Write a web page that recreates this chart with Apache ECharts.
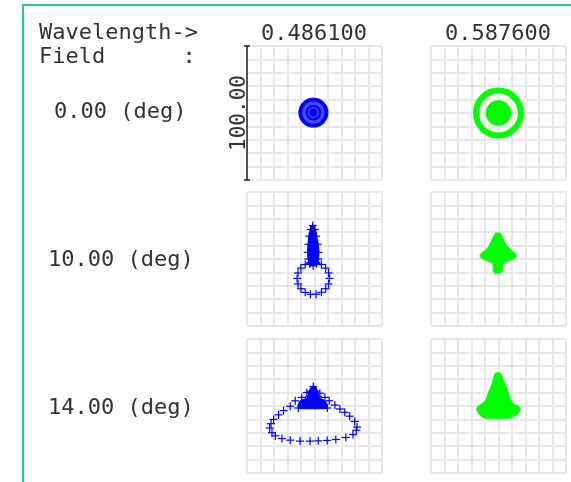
<!DOCTYPE html>
<html>
<head>
<meta charset="utf-8">
<title>Spot diagram</title>
<script src="https://cdn.jsdelivr.net/npm/echarts@6/dist/echarts.min.js"></script>
<style>
  html, body { margin: 0; padding: 0; background: #fff; }
  #main { width: 571px; height: 482px; }
</style>
</head>
<body>
<div id="main"></div>
<script>
// headers
var wavelengths = ['0.486100', '0.587600'];
var fields = ['0.00 (deg)', '10.00 (deg)', '14.00 (deg)'];
var scaleLabel = '100.00';
var axisRange = [-50, 50];   // um, box = 100 um

// 0.486100 / 0.00 deg : [cx, cy, r] and rings [cx, cy, r, width]
var halo486F0 = [[-0.8, 0.3, 11.2]];
var ring486F0 = [[-0.8, 0.3, 9.6, 2.6], [-0.8, 0.3, 5.0, 1.6]];
var core486F0 = [[-0.8, 0.3, 3.0]];

// 0.587600 / 0.00 deg
var ring587F0 = [[-0.1, 0, 16.6, 4.4]];
var disk587F0 = [[-0.1, 0, 9.4]];

// 0.486100 / 10.00 deg : dense flame outline + single ray crosses
var flame486F10 = [
  [-1.3, 25.5], [0.5, 23], [1.5, 18], [2.6, 12], [3.1, 8], [3.2, 2.5], [2.2, -2],
  [0.5, -4.5], [-1.2, -5], [-3, -4.5], [-4.3, -2], [-5, 2.5], [-5, 8], [-4.7, 12],
  [-4, 18], [-3, 23]
];
var cross486F10 = [
  [11.1, -14.5], [10.4, -10.4], [8.3, -6.8], [5.1, -4.1], [1.2, -2.7], [-3.0, -2.7],
  [-6.9, -4.1], [-10.1, -6.8], [-12.2, -10.4], [-12.9, -14.5], [-12.2, -18.6],
  [-10.1, -22.2], [-6.9, -24.9], [-3.0, -26.3], [1.2, -26.3], [5.1, -24.9],
  [8.3, -22.2], [10.4, -18.6],
  [-1.3, 25], [-2.8, 22], [0.3, 22], [-3.8, 17], [1.2, 17], [-4.5, 11], [2.3, 11],
  [-5, 5], [3, 5], [-4.5, 0], [2.8, 0], [-3.5, -3.5], [1.5, -3.5], [-1, -5]
];

// 0.587600 / 10.00 deg
var blob587F10 = [
  [-0.5, 19.5], [1.5, 19], [3, 16], [4.6, 12.3], [7, 9], [10.1, 6], [12.5, 4],
  [13.2, 2.5], [12, 0.5], [8.5, -1], [5.5, -2.2], [3, -3.5], [2.7, -9], [1.5, -10.5],
  [-3, -10.5], [-3.9, -9], [-4, -3.5], [-6.5, -2.2], [-9.5, -1], [-12.5, 0.5],
  [-13.7, 2.5], [-13, 4], [-10.3, 6], [-7.5, 9], [-5.9, 12.3], [-4, 16], [-2.5, 19]
];

// 0.486100 / 14.00 deg
var core486F14 = [
  [-0.9, 15], [1.5, 13], [2.8, 9], [4, 6], [7.7, 4], [9.4, 1], [9, -1.8],
  [-11.9, -1.8], [-12, 1], [-10.7, 4], [-5.5, 6], [-4.6, 9], [-3.2, 13]
];
var cross486F14 = [
  [-5.7, 10.1], [-9.4, 6.4], [-14.3, 3.9], [-18, -0.2], [-22.9, -3.4], [-26.6, -6.6],
  [-30.3, -10], [-32.2, -13.2], [-33.2, -16.4], [-31.5, -19.9], [-29, -22.3],
  [-24.1, -24.3], [-18, -25.5], [-10.7, -26.2], [-3.3, -26.2], [2.8, -26],
  [9.4, -25.7], [15.8, -25], [23.2, -23.5], [28.5, -21.3], [31, -18.1], [31.5, -15.7],
  [29.8, -11.5], [26.1, -7.6], [22.4, -4.7], [18.8, -2.2], [15.1, 0.7], [10.9, 3.9],
  [7.7, 6.4], [4, 9.6],
  [-0.9, 14.5], [-2.5, 11], [1, 11], [-4, 7], [2.5, 7], [-12, -1.5], [9.5, -1.5]
];

// 0.587600 / 14.00 deg
var blob587F14 = [
  [-0.5, 25], [2, 24], [3.2, 20], [5, 16], [6.4, 12.5], [8.3, 6.4], [9.5, 3.5],
  [11.3, 1.5], [14.5, 0], [16.2, -2.2], [14.2, -5.9], [8.3, -9], [-10.8, -9],
  [-14.5, -5.9], [-16.2, -2.2], [-15, 0], [-12.7, 1.5], [-10, 3.5], [-8.8, 6.4],
  [-6.4, 12.5], [-5, 16], [-3.9, 20], [-2.5, 24]
];

var BLUE = '#0000ff';
var GREEN = '#00ff00';
var FONT = '"DejaVu Sans Mono", monospace';
var TEXT = '#333';

var myChart = echarts.init(document.getElementById('main'));

// panel boxes, row by row
var colLeft = [247, 431];
var rowTop = [46, 192, 339];
var grids = [];
var xAxes = [];
var yAxes = [];
rowTop.forEach(function (top) {
  colLeft.forEach(function (left) {
    var i = grids.length;
    grids.push({ left: left, top: top, width: 135, height: 134 });
    var ax = {
      type: 'value', gridIndex: i, min: axisRange[0], max: axisRange[1], interval: 10,
      axisLine: { show: false }, axisTick: { show: false }, axisLabel: { show: false },
      splitLine: { show: true, lineStyle: { color: '#e8e8e8', width: 2 } }
    };
    xAxes.push(ax);
    yAxes.push(Object.assign({}, ax));
  });
});

// scale bar on the first box
yAxes.push({
  type: 'value', gridIndex: 0, position: 'left', min: 0, max: 100, interval: 100,
  axisLine: { show: true, onZero: false, lineStyle: { color: '#222', width: 1.5 } },
  axisTick: { show: true, length: 3, lineStyle: { color: '#222', width: 1.5 } },
  axisLabel: { show: false }, splitLine: { show: false },
  name: scaleLabel, nameLocation: 'middle', nameRotate: 90, nameGap: -3,
  nameTextStyle: { fontFamily: FONT, fontSize: 21, color: TEXT }
});
yAxes.push({
  type: 'value', gridIndex: 0, position: 'left', min: 0, max: 100, interval: 100,
  axisLine: { show: false },
  axisTick: { show: true, inside: true, length: 3, lineStyle: { color: '#222', width: 1.5 } },
  axisLabel: { show: false }, splitLine: { show: false }
});

function diskSeries(panel, data, color, opacity) {
  return {
    type: 'custom', xAxisIndex: panel, yAxisIndex: panel, data: data, silent: true,
    renderItem: function (params, api) {
      var c = api.coord([api.value(0), api.value(1)]);
      var r = api.size([api.value(2), 0])[0];
      return { type: 'circle', shape: { cx: c[0], cy: c[1], r: r },
        style: { fill: color, opacity: opacity } };
    }
  };
}

function ringSeries(panel, data, color) {
  return {
    type: 'custom', xAxisIndex: panel, yAxisIndex: panel, data: data, silent: true,
    renderItem: function (params, api) {
      var c = api.coord([api.value(0), api.value(1)]);
      var r = api.size([api.value(2), 0])[0];
      var w = api.size([api.value(3), 0])[0];
      return { type: 'circle', shape: { cx: c[0], cy: c[1], r: r },
        style: { fill: 'none', stroke: color, lineWidth: w } };
    }
  };
}

function blobSeries(panel, data, color) {
  return {
    type: 'custom', xAxisIndex: panel, yAxisIndex: panel, data: data, silent: true,
    renderItem: function (params, api) {
      if (params.dataIndex !== 0) return;
      var pts = data.map(function (d) { return api.coord(d); });
      return { type: 'polygon', shape: { points: pts, smooth: 0.15 },
        style: { fill: color, stroke: color, lineWidth: 1 } };
    }
  };
}

function crossSeries(panel, data, color) {
  return {
    type: 'custom', xAxisIndex: panel, yAxisIndex: panel, data: data, silent: true,
    renderItem: function (params, api) {
      var p = api.coord([api.value(0), api.value(1)]);
      var h = 4;
      return { type: 'group', children: [
        { type: 'line', shape: { x1: p[0] - h, y1: p[1], x2: p[0] + h, y2: p[1] },
          style: { stroke: color, lineWidth: 1.2 } },
        { type: 'line', shape: { x1: p[0], y1: p[1] - h, x2: p[0], y2: p[1] + h },
          style: { stroke: color, lineWidth: 1.2 } }
      ] };
    }
  };
}

var series = [
  diskSeries(0, halo486F0, BLUE, 0.7),
  ringSeries(0, ring486F0, BLUE),
  diskSeries(0, core486F0, BLUE, 1),
  ringSeries(1, ring587F0, GREEN),
  diskSeries(1, disk587F0, GREEN, 1),
  blobSeries(2, flame486F10, BLUE),
  crossSeries(2, cross486F10, BLUE),
  blobSeries(3, blob587F10, GREEN),
  blobSeries(4, core486F14, BLUE),
  crossSeries(4, cross486F14, BLUE),
  blobSeries(5, blob587F14, GREEN)
];

function label(text, x, y, align) {
  return {
    type: 'text', x: x, y: y, silent: true,
    style: { text: text, fill: TEXT, font: '22px ' + FONT,
      align: align, verticalAlign: 'middle', textAlign: align, textVerticalAlign: 'middle' }
  };
}

var graphics = [
  { type: 'line', shape: { x1: 23, y1: 5, x2: 23, y2: 482 }, style: { stroke: '#1ec99b', lineWidth: 2 } },
  { type: 'line', shape: { x1: 22, y1: 5, x2: 571, y2: 5 }, style: { stroke: '#1ec99b', lineWidth: 2 } },
  label('Wavelength->', 39, 33, 'left'),
  label('Field', 39, 57, 'left'),
  label(':', 189, 57, 'center'),
  label(wavelengths[0], 314, 34, 'center'),
  label(wavelengths[1], 498, 34, 'center'),
  label(fields[0], 54, 112, 'left'),
  label(fields[1], 48, 260, 'left'),
  label(fields[2], 48, 408, 'left')
];

myChart.setOption({
  animation: false,
  backgroundColor: '#fff',
  grid: grids,
  xAxis: xAxes,
  yAxis: yAxes,
  series: series,
  graphic: graphics
});
</script>
</body>
</html>
